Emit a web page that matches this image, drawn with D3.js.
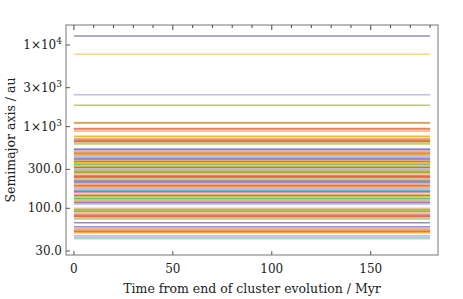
<!DOCTYPE html>
<html>
<head>
<meta charset="utf-8">
<script src="https://cdn.jsdelivr.net/npm/d3@7"></script>
<style>
  body { margin: 0; background: #fff; }
  text { font-family: "DejaVu Serif", "Liberation Serif", serif; }
</style>
</head>
<body>
<div id="chart"></div>
<script>
// time span of every orbit (Myr)
let times = [0, 180];

// semimajor axis of each planet (au), top to bottom
let semimajor = [
  12900, 7690, 2460, 1825, 1125, 1110, 950, 935, 883, 762,
  722, 698, 676, 652, 633, 614,
  532, 521, 503, 490, 471, 458, 440, 429, 411, 398, 386, 371, 360, 346,
  336, 322, 314, 301, 292, 284, 272, 265, 254, 247, 239, 230, 223, 215,
  209, 201, 195, 188, 182, 176, 170, 164, 159,
  148, 142, 137, 131, 127, 122, 117, 113,
  100, 96, 92, 89, 85, 82, 79, 76, 74,
  66.6,
  59.5, 57, 55, 52.5, 50.2,
  46.2, 44.2, 42.5
];

// tick labels
let xTicks = [0, 50, 100, 150];
let yTicks = [30, 100, 300, 1000, 3000, 10000];
let yTickText = ["30.0", "100.0", "300.0", "1\u00d710|3", "3\u00d710|3", "1\u00d710|4"];

// line colours
let topColors = ["#8778B3", "#FDCB7A", "#BAB3D6", "#B4BA62", "#F9C27E", "#C5893A",
  "#EB6235", "#EE7A5A", "#F2A65A", "#F0B400"];
let palette = ["#5E81B5", "#E19C24", "#8FB032", "#EB6235", "#8778B3", "#C56E1A",
  "#5D9EC7", "#FFBF00", "#A5609D", "#929600", "#E95536", "#6685D9", "#F89F13",
  "#BC5B80", "#47B66D", "#9DB3D6", "#F0C27C", "#BCD18A", "#F4A08A", "#B8AFD6",
  "#D9A36F", "#9EC6E0", "#E0B98A", "#C993C3", "#BDBF66", "#F39C8A", "#A9BCEB"];

let svg = d3.select("#chart").append("svg")
  .attr("width", 463)
  .attr("height", 299);

const frame = { left: 66, right: 438, top: 25, bottom: 255 };

let xScale = d3.scaleLinear().domain([-4, 184]).range([frame.left, frame.right]);
let yScale = d3.scaleLog().domain([26.8, 17580]).range([frame.bottom, frame.top]);

// lines
svg.append("g")
  .selectAll("line")
  .data(semimajor)
  .enter()
  .append("line")
  .attr("x1", xScale(times[0]))
  .attr("x2", xScale(times[1]))
  .attr("y1", function (d) { return yScale(d); })
  .attr("y2", function (d) { return yScale(d); })
  .attr("stroke", function (d, i) {
    if (i == semimajor.length - 1) return "#9FD6B0";
    return i < topColors.length ? topColors[i] : palette[(i * 7) % palette.length];
  })
  .attr("stroke-width", 1.6)
  .attr("stroke-opacity", 0.85);

// frame
svg.append("rect")
  .attr("x", frame.left)
  .attr("y", frame.top)
  .attr("width", frame.right - frame.left)
  .attr("height", frame.bottom - frame.top)
  .attr("fill", "none")
  .attr("stroke", "#777")
  .attr("stroke-width", 1);

// top ticks every 10
let topTicks = d3.range(0, 190, 10);
svg.append("g")
  .selectAll("line")
  .data(topTicks)
  .enter()
  .append("line")
  .attr("x1", function (d) { return xScale(d); })
  .attr("x2", function (d) { return xScale(d); })
  .attr("y1", frame.top)
  .attr("y2", function (d) { return d % 50 == 0 ? frame.top + 5 : frame.top + 3; })
  .attr("stroke", "#444");

// bottom axis
svg.append("g")
  .selectAll("line")
  .data(xTicks)
  .enter()
  .append("line")
  .attr("x1", function (d) { return xScale(d); })
  .attr("x2", function (d) { return xScale(d); })
  .attr("y1", frame.bottom)
  .attr("y2", frame.bottom - 4)
  .attr("stroke", "#555");

svg.append("g")
  .selectAll("text")
  .data(xTicks)
  .enter()
  .append("text")
  .attr("x", function (d) { return xScale(d); })
  .attr("y", 273)
  .attr("text-anchor", "middle")
  .attr("font-size", 12)
  .attr("fill", "#222")
  .text(function (d) { return d; });

// left axis
svg.append("g")
  .selectAll("line")
  .data(yTicks)
  .enter()
  .append("line")
  .attr("x1", frame.left)
  .attr("x2", frame.left + 4)
  .attr("y1", function (d) { return yScale(d); })
  .attr("y2", function (d) { return yScale(d); })
  .attr("stroke", "#555");

let yLabels = svg.append("g")
  .selectAll("text")
  .data(yTicks)
  .enter()
  .append("text")
  .attr("x", 62)
  .attr("y", function (d) { return yScale(d) + 4; })
  .attr("text-anchor", "end")
  .attr("font-size", 12)
  .attr("fill", "#222");

yLabels.each(function (d, i) {
  let parts = yTickText[i].split("|");
  let t = d3.select(this);
  t.append("tspan").text(parts[0]);
  if (parts.length > 1) {
    t.append("tspan")
      .attr("dy", -5)
      .attr("font-size", 9)
      .text(parts[1]);
  }
});

// axis titles
svg.append("text")
  .attr("x", 252)
  .attr("y", 293)
  .attr("text-anchor", "middle")
  .attr("font-size", 12.5)
  .attr("fill", "#222")
  .text("Time from end of cluster evolution / Myr");

svg.append("text")
  .attr("transform", "translate(15," + 140 + ") rotate(-90)")
  .attr("text-anchor", "middle")
  .attr("font-size", 12.5)
  .attr("fill", "#222")
  .text("Semimajor axis / au");
</script>
</body>
</html>
